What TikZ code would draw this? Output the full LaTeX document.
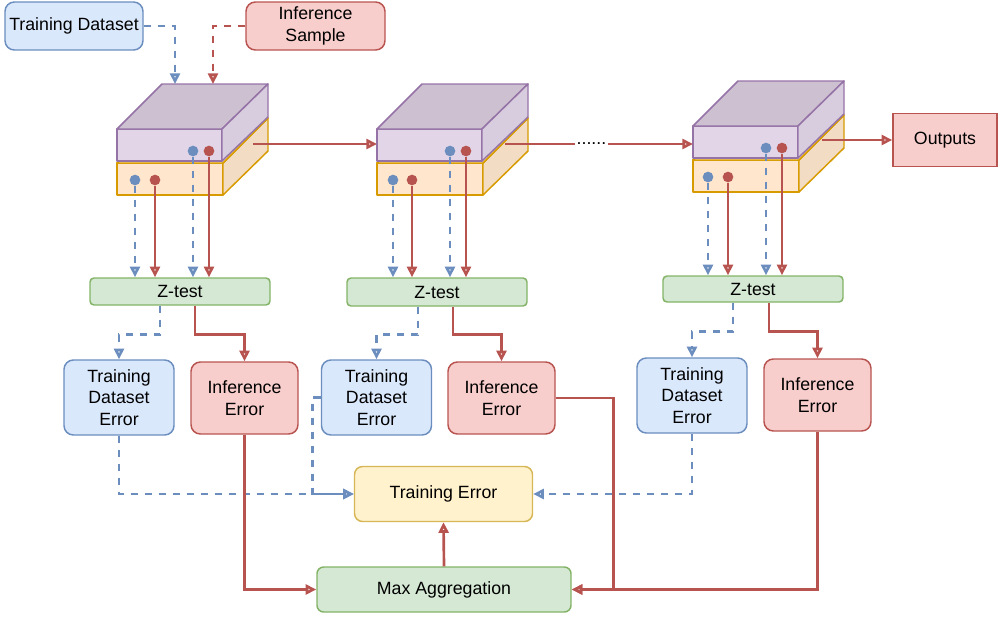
\documentclass[tikz,border=0pt]{standalone}
\usepackage{fontspec}
\setmainfont{Liberation Sans}
\usepackage{tikz}
\usetikzlibrary{arrows.meta}

\definecolor{tdfill}{RGB}{218,232,252}
\definecolor{tdline}{RGB}{108,142,191}
\definecolor{inffill}{RGB}{248,206,204}
\definecolor{infline}{RGB}{184,84,80}
\definecolor{zfill}{RGB}{213,232,212}
\definecolor{zline}{RGB}{130,179,102}
\definecolor{errfill}{RGB}{255,242,204}
\definecolor{errline}{RGB}{214,182,86}
\definecolor{layfront}{RGB}{225,213,231}
\definecolor{laytop}{RGB}{204,192,209}
\definecolor{layside}{RGB}{216,205,222}
\definecolor{layline}{RGB}{150,115,166}
\definecolor{bnfront}{RGB}{255,230,204}
\definecolor{bnside}{RGB}{243,220,196}
\definecolor{bnline}{RGB}{215,155,0}

\begin{document}
\begin{tikzpicture}[x=0.75pt,y=0.75pt,yscale=-1,xscale=1,
  font=\fontsize{13.3}{16}\selectfont,
  box/.style={draw, line width=1.1pt, align=center, inner sep=2pt, rounded corners=7pt},
  tdbox/.style={box, fill=tdfill, draw=tdline},
  infbox/.style={box, fill=inffill, draw=infline},
  zbox/.style={box, fill=zfill, draw=zline, rounded corners=3pt, minimum width=135pt},
  errbox/.style={box, fill=errfill, draw=errline},
  dashes/.style={dash pattern=on 5.5pt off 5pt},
  tdflow/.style={draw=tdline, line width=2pt, dashes, -{Triangle[open,length=8pt,width=7.5pt]}},
  infflow/.style={draw=infline, line width=2pt, -{Triangle[open,length=8pt,width=7.5pt]}},
  tddot/.style={circle, fill=tdline, inner sep=0pt, minimum size=8pt},
  infdot/.style={circle, fill=infline, inner sep=0pt, minimum size=8pt},
  layer/.style={draw=layline, line width=1.1pt, line join=round},
  bnorm/.style={draw=bnline, line width=1.1pt, line join=round}
]
\useasboundingbox (0,0) rectangle (999,618);

%Shape: Cube [block 1, lower]
\draw [bnorm, fill=bnfront] (117,163) rectangle (223,195);
\draw [bnorm, fill=bnside] (223,163) -- (268,118) -- (268,151) -- (223,195) -- cycle;
\draw [bnorm, fill=bnfront] (117,163) -- (162,118) -- (268,118) -- (223,163) -- cycle;
%Shape: Cube [block 1, upper]
\draw [layer, fill=layfront] (117,129) rectangle (222,161);
\draw [layer, fill=laytop] (117,129) -- (162,84) -- (268,84) -- (222,129) -- cycle;
\draw [layer, fill=layside] (222,129) -- (268,84) -- (268,117) -- (222,161) -- cycle;

%Shape: Cube [block 2, lower]
\draw [bnorm, fill=bnfront] (377,163) rectangle (483,195);
\draw [bnorm, fill=bnside] (483,163) -- (528,118) -- (528,151) -- (483,195) -- cycle;
\draw [bnorm, fill=bnfront] (377,163) -- (422,118) -- (528,118) -- (483,163) -- cycle;
%Shape: Cube [block 2, upper]
\draw [layer, fill=layfront] (377,129) rectangle (482,161);
\draw [layer, fill=laytop] (377,129) -- (422,84) -- (528,84) -- (482,129) -- cycle;
\draw [layer, fill=layside] (482,129) -- (528,84) -- (528,117) -- (482,161) -- cycle;

%Shape: Cube [block 3, lower]
\draw [bnorm, fill=bnfront] (693,160) rectangle (799,192);
\draw [bnorm, fill=bnside] (799,160) -- (844,115) -- (844,148) -- (799,192) -- cycle;
\draw [bnorm, fill=bnfront] (693,160) -- (738,115) -- (844,115) -- (799,160) -- cycle;
%Shape: Cube [block 3, upper]
\draw [layer, fill=layfront] (693,126) rectangle (798,158);
\draw [layer, fill=laytop] (693,126) -- (738,81) -- (844,81) -- (798,126) -- cycle;
\draw [layer, fill=layside] (798,126) -- (844,81) -- (844,114) -- (798,158) -- cycle;

% Text Node
\node [tdbox, minimum width=103.5pt, minimum height=36pt] (tds) at (74,26) {Training Dataset};
% Text Node
\node [infbox, minimum width=104.25pt, minimum height=36pt] (ins) at (315.5,26) {Inference\\Sample};
% Text Node
\node [infbox, sharp corners, minimum width=78pt, minimum height=39.75pt] (out) at (945,140) {Outputs};

% Text Node
\node [zbox, minimum height=20.25pt] (z1) at (180,291.5) {Z-test};
\node [zbox, minimum height=21pt] (z2) at (437,292) {Z-test};
\node [zbox, minimum height=19.5pt] (z3) at (753,289) {Z-test};

% Text Node
\node [tdbox, minimum width=82.5pt, minimum height=56.25pt] (td1) at (119,397.5) {Training\\Dataset\\Error};
\node [infbox, minimum width=80.25pt, minimum height=54pt] (ie1) at (244.5,398) {Inference\\Error};
\node [tdbox, minimum width=82.5pt, minimum height=56.25pt] (td2) at (376.5,397.5) {Training\\Dataset\\Error};
\node [infbox, minimum width=80.25pt, minimum height=54pt] (ie2) at (501.5,398) {Inference\\Error};
\node [tdbox, minimum width=82.5pt, minimum height=56.25pt] (td3) at (692,395.5) {Training\\Dataset\\Error};
\node [infbox, minimum width=80.25pt, minimum height=54pt] (ie3) at (817.5,395) {Inference\\Error};

% Text Node
\node [errbox, rounded corners=6pt, minimum width=133.5pt, minimum height=41.25pt] (te) at (443.5,494) {Training Error};
\node [box, fill=zfill, draw=zline, rounded corners=5pt, minimum width=190.5pt, minimum height=33.75pt] (ma) at (444,589.5) {Max Aggregation};

%Inputs into block 1
\coordinate (b1tin) at (175,84);
\coordinate (b1iin) at (213,84);
\draw [tdflow] (tds.east) -| (b1tin);
\draw [infflow, dashes] (ins.west) -| (b1iin);

%Between blocks
\coordinate (b1out) at (253,144);
\coordinate (b2in) at (377,144);
\coordinate (b2out) at (505,144);
\coordinate (b3in) at (693,144);
\coordinate (b3out) at (822,140);
\draw [infflow] (b1out) -- (b2in);
\draw [infflow] (b2out) -- node [pos=0.46, fill=white, inner sep=1pt] (gap) {......} (b3in);
\draw [infflow] (b3out) -- (out.west);

%Taps of block 1
\node [tddot] (t1a) at (135,180) {};
\node [infdot] (i1a) at (155,180) {};
\node [tddot] (t1b) at (193,151) {};
\node [infdot] (i1b) at (209,151) {};
\draw [tdflow] (t1a) -- (t1a |- z1.north);
\draw [infflow] (i1a) -- (i1a |- z1.north);
\draw [tdflow] (t1b) -- (t1b |- z1.north);
\draw [infflow] (i1b) -- (i1b |- z1.north);

%Taps of block 2
\node [tddot] (t2a) at (393,180) {};
\node [infdot] (i2a) at (412,180) {};
\node [tddot] (t2b) at (450,151) {};
\node [infdot] (i2b) at (466,151) {};
\draw [tdflow] (t2a) -- (t2a |- z2.north);
\draw [infflow] (i2a) -- (i2a |- z2.north);
\draw [tdflow] (t2b) -- (t2b |- z2.north);
\draw [infflow] (i2b) -- (i2b |- z2.north);

%Taps of block 3
\node [tddot] (t3a) at (708,177) {};
\node [infdot] (i3a) at (728,177) {};
\node [tddot] (t3b) at (766,148) {};
\node [infdot] (i3b) at (782,148) {};
\draw [tdflow] (t3a) -- (t3a |- z3.north);
\draw [infflow] (i3a) -- (i3a |- z3.north);
\draw [tdflow] (t3b) -- (t3b |- z3.north);
\draw [infflow] (i3b) -- (i3b |- z3.north);

%Z-test outputs
\draw [tdflow] ([xshift=-15pt]z1.south) -- ++(0,29) -| (td1.north);
\draw [infflow] ([xshift=11.25pt]z1.south) -- ++(0,29) -| (ie1.north);
\draw [tdflow] ([xshift=-14.25pt]z2.south) -- ++(0,28) -| (td2.north);
\draw [infflow] ([xshift=12pt]z2.south) -- ++(0,28) -| (ie2.north);
\draw [tdflow] ([xshift=-15pt]z3.south) -- ++(0,29) -| (td3.north);
\draw [infflow] ([xshift=12pt]z3.south) -- ++(0,29) -| (ie3.north);

%Errors into training error
\draw [tdflow] (td1.south) |- (te.west);
\draw [tdflow] (td2.west) -- ++(-8,0) |- (te.west);
\draw [tdflow] (td3.south) |- (te.east);

%Errors into max aggregation
\draw [infflow] (ie1.south) |- (ma.west);
\draw [infflow] (ie2.east) -- ++(58,0) |- (ma.east);
\draw [infflow] (ie3.south) |- (ma.east);
\draw [infflow] (ma.north) -- (te.south);

\end{tikzpicture}
\end{document}
